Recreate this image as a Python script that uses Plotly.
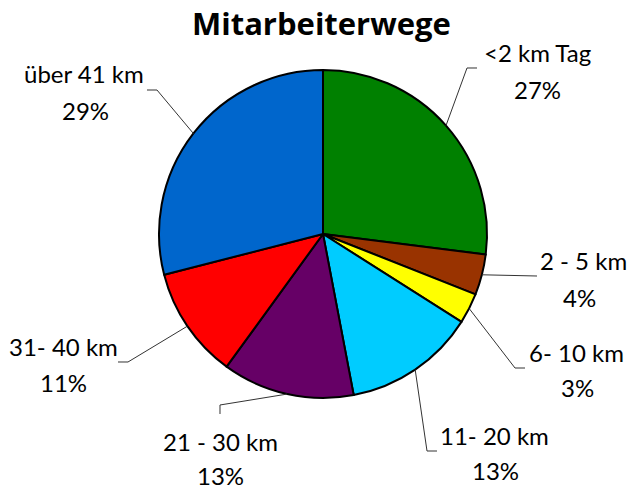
import math
import plotly.graph_objects as go

# ---- data ----
categories = ["<2 km Tag", "2 - 5 km", "6- 10 km", "11- 20 km", "21 - 30 km", "31- 40 km", "über 41 km"]
shares = [27, 4, 3, 13, 13, 11, 29]
colors = ["#008000", "#993300", "#FFFF00", "#00CCFF", "#660066", "#FF0000", "#0066CC"]
title_text = "Mitarbeiterwege"

# ---- layout constants (pixels) ----
W, H = 629, 492
CX, CY, R = 323, 234, 164
FONT = "Lato"
LABEL_SIZE = 24

# label placement: (label center x, label center y, percent center x, percent center y,
#                   knee points of the leader line in px)
label_layout = [
    (537, 52, 537, 90, [(467, 68), (477, 68)]),
    (583, 260, 579, 297, [(537, 276)]),
    (576, 352, 577, 387, [(515, 368), (525, 368)]),
    (494, 435, 495, 470, [(427, 451), (437, 451)]),
    (220, 441, 220, 475, [(220, 405), (220, 414)]),
    (63, 346, 63, 382, [(128, 362), (118, 362)]),
    (84, 73, 85, 110, [(157, 90), (147, 90)]),
]


def px(x):
    return x / W


def py(y):
    return 1 - y / H


fig = go.Figure(
    go.Pie(
        labels=categories,
        values=shares,
        sort=False,
        direction="clockwise",
        rotation=0,
        marker=dict(colors=colors, line=dict(color="black", width=2)),
        textinfo="none",
        hoverinfo="label+percent",
        showlegend=False,
        domain=dict(x=[px(CX - R), px(CX + R)], y=[py(CY + R), py(CY - R)]),
    )
)

total = sum(shares)
cum = 0
shapes = []
annotations = []
for cat, val, lay in zip(categories, shares, label_layout):
    mid = (cum + val / 2) / total * 2 * math.pi
    cum += val
    sx = CX + R * math.sin(mid)
    sy = CY - R * math.cos(mid)
    pts = [(sx, sy)] + lay[4]
    path = "M " + " L ".join(f"{px(x):.5f},{py(y):.5f}" for x, y in pts)
    shapes.append(dict(type="path", xref="paper", yref="paper", path=path,
                       line=dict(color="#333333", width=1)))
    annotations.append(dict(x=px(lay[0]), y=py(lay[1]), xref="paper", yref="paper",
                            text=cat, showarrow=False, xanchor="center", yanchor="middle",
                            font=dict(family=FONT, size=LABEL_SIZE, color="black")))
    pct = round(val / total * 100)
    annotations.append(dict(x=px(lay[2]), y=py(lay[3]), xref="paper", yref="paper",
                            text=f"{pct}%", showarrow=False, xanchor="center", yanchor="middle",
                            font=dict(family=FONT, size=LABEL_SIZE, color="black")))

annotations.append(dict(x=px(321), y=py(23), xref="paper", yref="paper", text=f"<b>{title_text}</b>",
                        showarrow=False, xanchor="center", yanchor="middle",
                        font=dict(family="Open Sans", size=31, color="black")))

fig.update_layout(
    width=W, height=H,
    margin=dict(l=0, r=0, t=0, b=0),
    paper_bgcolor="white", plot_bgcolor="white",
    shapes=shapes, annotations=annotations,
)

fig.write_html("out.html", config={"displayModeBar": False},
               post_script="document.body.style.margin='0px';document.body.style.overflow='hidden';")
